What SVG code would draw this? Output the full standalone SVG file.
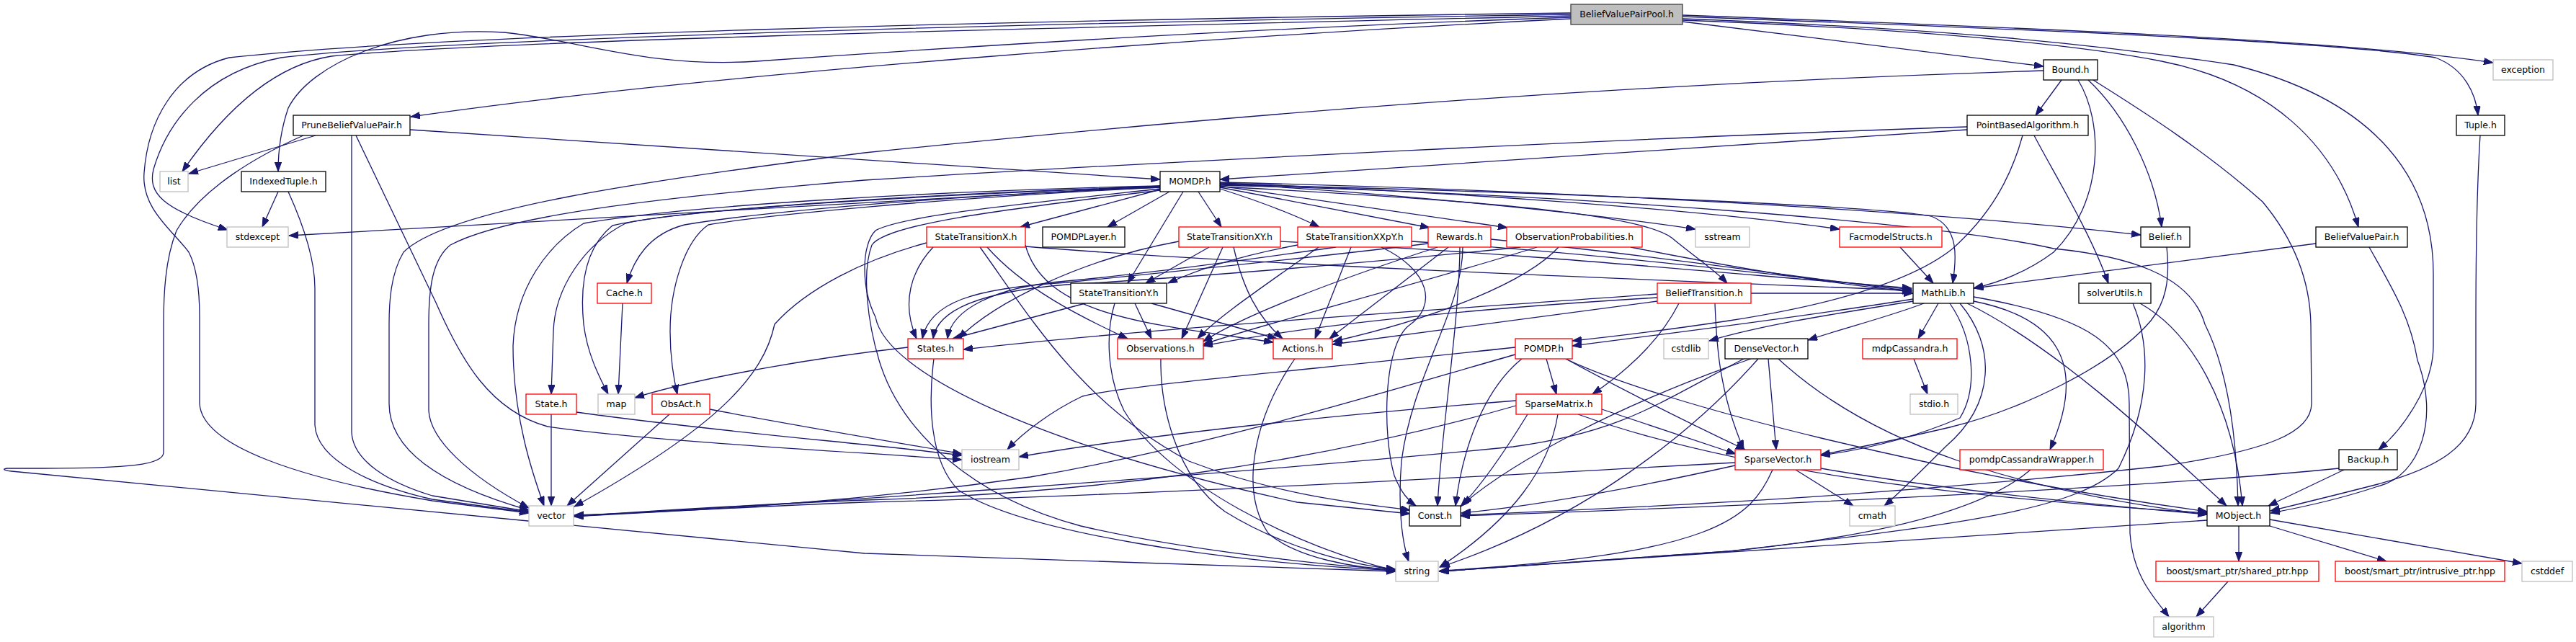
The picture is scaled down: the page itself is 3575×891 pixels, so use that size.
<svg xmlns="http://www.w3.org/2000/svg" width="3575" height="891" viewBox="0 0 3575 891">
<style>
rect{stroke-width:1.3}
.k rect{fill:#fff;stroke:#000}
.r rect{fill:#fff;stroke:#f00}
.g rect{fill:#fff;stroke:#bfbfbf}
.root rect{fill:#bfbfbf;stroke:#404040}
text{font-family:"DejaVu Sans","Liberation Sans",sans-serif;font-size:12.5px;text-anchor:middle;fill:#000}
#edges path{fill:none;stroke:#191970;stroke-width:1.3;marker-end:url(#arr)}
</style>
<defs>
<marker id="arr" markerWidth="14" markerHeight="10" refX="13" refY="4.7" orient="auto" markerUnits="userSpaceOnUse"><path d="M0,0 L13,4.7 L0,9.4 z" fill="#191970" stroke="#191970" stroke-width="1"/></marker>
</defs>
<rect x="0" y="0" width="3575" height="891" fill="#fff" stroke="none"/>
<g id="edges">
<path d="M2180,22 C1500,38 700,55 460,78 C370,92 300,170 253,238"/>
<path d="M2180,20 C1400,32 600,55 390,80 C285,100 232,170 213,235 C205,268 225,290 316,319"/>
<path d="M2180,18 C1400,28 600,48 318,80 C240,100 205,170 200,240 C196,290 240,320 262,350 C275,375 277,410 277,440 L277,560 C280,620 420,665 600,695 L734,712"/>
<path d="M2180,26 C1700,50 1000,100 570,162"/>
<path d="M2180,24 C1800,37 1400,60 1050,85 C900,95 800,55 700,45 C550,35 430,90 400,150 C388,185 386,215 386,238"/>
<path d="M2335,30 L2836,92"/>
<path d="M2335,21 C2800,38 3250,55 3460,87"/>
<path d="M2335,23 C2800,40 3250,58 3380,80 C3420,95 3436,130 3439,160"/>
<path d="M2335,28 C2700,42 2900,65 3000,85 C3150,115 3240,200 3273,315"/>
<path d="M2335,26 C2700,40 2900,60 3100,90 C3300,140 3377,250 3377,380 L3377,480 C3377,540 3330,600 3301,624"/>
<path d="M438,188 L262,241"/>
<path d="M421,188 C360,215 280,260 245,320 C229,360 227,410 227,450 L227,628 C227,645 180,650 60,650 L10,650 C2,651 6,653 16,654 L1200,768 C1500,780 1800,788 1937,793"/>
<path d="M488,188 L488,600 C490,640 540,670 600,688 L734,710"/>
<path d="M494,188 L605,420 C640,500 680,570 760,592 C900,612 1150,625 1335,638"/>
<path d="M569,180 L1610,249"/>
<path d="M386,266 L364,315"/>
<path d="M400,266 C420,310 437,360 437,400 L437,590 C440,640 520,675 600,693 L734,711"/>
<path d="M2861,111 L2825,160"/>
<path d="M2884,111 C2920,170 2920,280 2850,350 C2810,380 2770,393 2739,400"/>
<path d="M2898,111 C2950,160 2990,240 3000,315"/>
<path d="M2836,98 C2300,115 1800,150 1200,212 C900,250 620,290 560,350 C542,380 540,420 540,450 L540,560 C540,620 600,670 734,708"/>
<path d="M2905,111 C2950,140 3050,200 3140,280 C3190,340 3206,400 3207,450 L3208,560 C3208,600 3150,625 3000,647 C2600,690 2300,703 2027,715"/>
<path d="M2730,180 L1693,249"/>
<path d="M2730,176 C2300,190 1600,225 1200,250 C900,275 700,300 625,340 C600,360 595,400 595,450 L595,570 C597,610 650,660 734,705"/>
<path d="M2823,188 C2850,240 2900,320 2926,393"/>
<path d="M2807,188 C2790,250 2760,300 2710,345 C2660,385 2560,420 2400,445 C2300,460 2230,468 2182,473"/>
<path d="M3442,188 C3438,250 3436,350 3436,450 L3436,560 C3436,620 3380,650 3300,672 C3230,690 3180,702 3151,709"/>
<path d="M3214,338 L2740,400"/>
<path d="M3288,343 C3320,400 3345,440 3355,500 C3385,580 3360,660 3300,675 C3240,695 3190,705 3151,712"/>
<path d="M3253,652 L3148,702"/>
<path d="M3246,650 C3000,675 2500,700 2027,716"/>
<path d="M3007,343 C3012,390 3005,420 2985,445 C2930,510 2800,570 2706,593 C2620,613 2560,625 2527,631"/>
<path d="M1610,258 L401,327"/>
<path d="M1610,263 L1416,315"/>
<path d="M1623,266 L1537,315"/>
<path d="M1642,266 L1565,393"/>
<path d="M1663,266 L1695,315"/>
<path d="M1693,262 C1750,280 1800,300 1831,315"/>
<path d="M1693,260 L1984,316"/>
<path d="M1693,258 L2092,316"/>
<path d="M1693,255 C1900,265 2200,295 2353,318"/>
<path d="M1693,254 C2000,265 2350,290 2553,318"/>
<path d="M1693,253 C2200,265 2700,295 2971,326"/>
<path d="M1693,256 C2100,265 2600,285 2680,300 C2720,315 2715,360 2710,393"/>
<path d="M1693,257 C2200,270 2700,310 2850,345 C2950,355 3040,380 3060,450 C3090,510 3104,600 3106,702"/>
<path d="M1693,259 C2100,280 2280,300 2320,330 C2350,355 2380,375 2397,393"/>
<path d="M1610,260 C1300,272 1050,295 950,312 C900,325 880,360 870,393"/>
<path d="M1610,259 C1300,270 950,290 868,310 C810,340 770,400 768,460 L765,547"/>
<path d="M1610,259 C1300,268 950,290 850,313 C810,345 805,400 810,450 C815,490 830,520 844,547"/>
<path d="M1610,260 C1300,275 1050,300 983,312 C950,335 930,400 930,460 C930,500 936,530 940,547"/>
<path d="M1610,258 C1300,265 950,285 810,310 C760,340 715,400 712,480 C712,580 740,660 755,702"/>
<path d="M1610,262 C1400,285 1250,300 1215,320 C1195,340 1195,400 1215,440 C1230,520 1450,620 1800,697 L1957,713"/>
<path d="M1610,264 C1400,290 1230,310 1210,340 C1195,380 1205,450 1220,500 C1250,600 1350,690 1500,730 C1650,765 1850,785 1937,791"/>
<path d="M1286,337 C1200,360 1120,400 1075,450 C1060,520 1000,590 797,703"/>
<path d="M1295,343 C1265,375 1250,420 1272,470"/>
<path d="M1370,343 C1420,400 1500,440 1565,470"/>
<path d="M1423,340 C1450,440 1600,450 1767,475"/>
<path d="M1423,342 C1700,365 2200,385 2653,403"/>
<path d="M1360,343 C1430,440 1500,560 1650,640 C1780,690 1900,700 1957,708"/>
<path d="M1506,421 L1322,470"/>
<path d="M1575,421 L1598,470"/>
<path d="M1547,421 C1535,460 1535,520 1560,570 C1620,670 1800,760 1937,792"/>
<path d="M1598,421 L1772,470"/>
<path d="M1678,343 L1590,393"/>
<path d="M1636,335 C1500,360 1380,420 1330,470"/>
<path d="M1697,343 L1640,470"/>
<path d="M1712,343 C1725,400 1745,440 1780,470"/>
<path d="M1777,335 C2100,350 2400,380 2653,400"/>
<path d="M1801,340 C1720,355 1660,375 1621,393"/>
<path d="M1854,343 C1700,365 1560,383 1480,390 C1380,398 1320,430 1315,470"/>
<path d="M1830,343 C1750,400 1690,440 1662,470"/>
<path d="M1875,343 L1825,470"/>
<path d="M1917,343 C1985,375 1995,425 1955,452 C1920,480 1918,600 1935,660 C1945,685 1955,695 1965,702"/>
<path d="M1959,335 C2200,350 2450,380 2653,402"/>
<path d="M1982,338 C1800,360 1600,380 1480,392 C1350,400 1290,420 1280,470"/>
<path d="M1995,343 C1850,390 1720,440 1670,474"/>
<path d="M2010,343 L1845,470"/>
<path d="M2026,343 C2025,450 2000,600 1995,702"/>
<path d="M2030,343 C2030,430 1960,520 1945,640 C1940,700 1945,750 1955,779"/>
<path d="M2069,332 C2300,355 2500,385 2653,404"/>
<path d="M2110,343 C1900,365 1650,385 1480,395 C1360,405 1300,430 1295,470"/>
<path d="M2133,343 C1950,400 1750,450 1670,478"/>
<path d="M2163,343 C2120,390 2000,440 1850,474"/>
<path d="M2263,343 C2400,370 2550,395 2653,405"/>
<path d="M2300,408 C2000,430 1600,455 1337,485"/>
<path d="M2300,413 C2100,425 1850,445 1670,480"/>
<path d="M2300,418 L1849,478"/>
<path d="M2430,407 L2655,407"/>
<path d="M2380,421 C2382,470 2384,540 2420,624"/>
<path d="M2330,421 C2300,480 2250,520 2210,547"/>
<path d="M2146,498 L2160,547"/>
<path d="M2173,498 C2250,540 2350,590 2422,624"/>
<path d="M2103,492 C1950,535 1700,615 1430,662 C1200,695 1000,708 797,715"/>
<path d="M2103,482 C1800,515 1560,535 1502,550 C1460,570 1420,600 1398,624"/>
<path d="M2112,498 C2060,540 2030,620 2020,702"/>
<path d="M2173,498 C2300,560 2700,660 3063,710"/>
<path d="M2223,568 L2409,630"/>
<path d="M2104,563 C1800,650 1500,685 1200,694 C1000,702 870,712 797,716"/>
<path d="M2162,575 C2150,650 2100,720 1998,787"/>
<path d="M2104,556 C1800,580 1550,610 1414,634"/>
<path d="M2120,575 C2080,640 2050,680 2027,703"/>
<path d="M2190,575 C2400,650 2700,690 3063,712"/>
<path d="M2408,642 C1900,670 1500,690 1200,697 C1000,705 870,713 797,717"/>
<path d="M2460,652 C2430,720 2380,770 1998,792"/>
<path d="M2492,652 L2572,702"/>
<path d="M2408,646 C2300,670 2150,700 2028,712"/>
<path d="M2527,650 C2700,680 2900,700 3063,714"/>
<path d="M2454,498 L2465,624"/>
<path d="M2420,498 C2300,560 2250,600 2100,620 C1700,660 1100,700 797,716"/>
<path d="M2430,498 C2250,560 2100,640 2030,700"/>
<path d="M2440,498 C2350,600 2200,720 1999,787"/>
<path d="M2468,498 C2600,620 2800,680 3063,714"/>
<path d="M2670,421 C2620,440 2560,455 2509,472"/>
<path d="M2706,421 C2740,470 2745,540 2720,580 C2650,610 2580,625 2527,632"/>
<path d="M2720,421 C2770,480 2770,560 2700,620 C2660,660 2630,690 2615,702"/>
<path d="M2690,421 L2662,470"/>
<path d="M2739,418 C2850,440 2900,500 2845,624"/>
<path d="M2730,421 C2850,480 2980,600 3090,702"/>
<path d="M2739,412 C2900,440 2955,480 2955,560 L2956,740 C2960,800 2990,830 3010,856"/>
<path d="M2655,415 C2500,440 2300,465 2182,480"/>
<path d="M2655,418 C2550,435 2450,450 2372,473"/>
<path d="M2656,498 L2675,547"/>
<path d="M2818,652 C2750,710 2600,745 2400,765 C2200,780 2050,790 1998,793"/>
<path d="M2970,421 C3040,460 3100,560 3112,702"/>
<path d="M2960,421 C2985,480 2985,560 2940,650 C2880,710 2700,730 2400,765 C2200,780 2050,790 1998,793"/>
<path d="M2637,343 L2683,393"/>
<path d="M864,421 L858,547"/>
<path d="M765,575 L765,702"/>
<path d="M800,572 C1000,600 1200,615 1335,632"/>
<path d="M929,575 L787,702"/>
<path d="M985,568 C1100,590 1250,615 1335,630"/>
<path d="M1260,482 C1100,500 950,530 881,552"/>
<path d="M1296,498 C1288,560 1290,640 1330,680 C1420,740 1700,780 1937,792"/>
<path d="M1611,498 C1610,560 1630,660 1700,710 C1780,760 1880,785 1937,790"/>
<path d="M1797,498 C1740,580 1720,680 1760,740 C1800,775 1880,788 1937,791"/>
<path d="M3063,722 C2600,750 2200,780 1997,793"/>
<path d="M3107,730 L3107,779"/>
<path d="M3150,730 L3312,779"/>
<path d="M3150,721 L3500,782"/>
<path d="M3092,807 L3048,856"/>
</g>
<g id="n-BeliefValuePairPool" class="root"><rect x="2180" y="6" width="155" height="28"/><text x="2257.5" y="24">BeliefValuePairPool.h</text></g>
<g id="n-Bound" class="k"><rect x="2836" y="83" width="75" height="28"/><text x="2873.5" y="101">Bound.h</text></g>
<g id="n-exception" class="g"><rect x="3460" y="83" width="83" height="28"/><text x="3501.5" y="101">exception</text></g>
<g id="n-PointBasedAlgorithm" class="k"><rect x="2730" y="160" width="168" height="28"/><text x="2814" y="178">PointBasedAlgorithm.h</text></g>
<g id="n-Tuple" class="k"><rect x="3409" y="160" width="67" height="28"/><text x="3442.5" y="178">Tuple.h</text></g>
<g id="n-PruneBeliefValuePair" class="k"><rect x="407" y="160" width="162" height="28"/><text x="488" y="178">PruneBeliefValuePair.h</text></g>
<g id="n-list" class="g"><rect x="222" y="238" width="39" height="28"/><text x="241.5" y="256">list</text></g>
<g id="n-IndexedTuple" class="k"><rect x="335" y="238" width="117" height="28"/><text x="393.5" y="256">IndexedTuple.h</text></g>
<g id="n-MOMDP" class="k"><rect x="1610" y="238" width="83" height="28"/><text x="1651.5" y="256">MOMDP.h</text></g>
<g id="n-stdexcept" class="g"><rect x="315" y="315" width="85" height="28"/><text x="357.5" y="333">stdexcept</text></g>
<g id="n-StateTransitionX" class="r"><rect x="1286" y="315" width="137" height="28"/><text x="1354.5" y="333">StateTransitionX.h</text></g>
<g id="n-POMDPLayer" class="k"><rect x="1447" y="315" width="114" height="28"/><text x="1504" y="333">POMDPLayer.h</text></g>
<g id="n-StateTransitionXY" class="r"><rect x="1636" y="315" width="141" height="28"/><text x="1706.5" y="333">StateTransitionXY.h</text></g>
<g id="n-StateTransitionXXpY" class="r"><rect x="1801" y="315" width="158" height="28"/><text x="1880" y="333">StateTransitionXXpY.h</text></g>
<g id="n-Rewards" class="r"><rect x="1982" y="315" width="87" height="28"/><text x="2025.5" y="333">Rewards.h</text></g>
<g id="n-ObservationProbabilities" class="r"><rect x="2091" y="315" width="188" height="28"/><text x="2185" y="333">ObservationProbabilities.h</text></g>
<g id="n-sstream" class="g"><rect x="2353" y="315" width="75" height="28"/><text x="2390.5" y="333">sstream</text></g>
<g id="n-FacmodelStructs" class="r"><rect x="2553" y="315" width="142" height="28"/><text x="2624" y="333">FacmodelStructs.h</text></g>
<g id="n-Belief" class="k"><rect x="2971" y="315" width="68" height="28"/><text x="3005" y="333">Belief.h</text></g>
<g id="n-BeliefValuePair" class="k"><rect x="3214" y="315" width="127" height="28"/><text x="3277.5" y="333">BeliefValuePair.h</text></g>
<g id="n-Cache" class="r"><rect x="829" y="393" width="75" height="28"/><text x="866.5" y="411">Cache.h</text></g>
<g id="n-StateTransitionY" class="k"><rect x="1486" y="393" width="133" height="28"/><text x="1552.5" y="411">StateTransitionY.h</text></g>
<g id="n-BeliefTransition" class="r"><rect x="2300" y="393" width="130" height="28"/><text x="2365" y="411">BeliefTransition.h</text></g>
<g id="n-MathLib" class="k"><rect x="2655" y="393" width="84" height="28"/><text x="2697" y="411">MathLib.h</text></g>
<g id="n-solverUtils" class="k"><rect x="2885" y="393" width="100" height="28"/><text x="2935" y="411">solverUtils.h</text></g>
<g id="n-States" class="r"><rect x="1260" y="470" width="77" height="28"/><text x="1298.5" y="488">States.h</text></g>
<g id="n-Observations" class="r"><rect x="1551" y="470" width="119" height="28"/><text x="1610.5" y="488">Observations.h</text></g>
<g id="n-Actions" class="r"><rect x="1767" y="470" width="82" height="28"/><text x="1808" y="488">Actions.h</text></g>
<g id="n-POMDP" class="r"><rect x="2103" y="470" width="79" height="28"/><text x="2142.5" y="488">POMDP.h</text></g>
<g id="n-cstdlib" class="g"><rect x="2309" y="470" width="62" height="28"/><text x="2340" y="488">cstdlib</text></g>
<g id="n-DenseVector" class="k"><rect x="2394" y="470" width="115" height="28"/><text x="2451.5" y="488">DenseVector.h</text></g>
<g id="n-mdpCassandra" class="r"><rect x="2585" y="470" width="131" height="28"/><text x="2650.5" y="488">mdpCassandra.h</text></g>
<g id="n-State" class="r"><rect x="730" y="547" width="70" height="28"/><text x="765" y="565">State.h</text></g>
<g id="n-map" class="g"><rect x="830" y="547" width="51" height="28"/><text x="855.5" y="565">map</text></g>
<g id="n-ObsAct" class="r"><rect x="905" y="547" width="80" height="28"/><text x="945" y="565">ObsAct.h</text></g>
<g id="n-SparseMatrix" class="r"><rect x="2104" y="547" width="119" height="28"/><text x="2163.5" y="565">SparseMatrix.h</text></g>
<g id="n-stdio" class="g"><rect x="2651" y="547" width="66" height="28"/><text x="2684" y="565">stdio.h</text></g>
<g id="n-iostream" class="g"><rect x="1335" y="624" width="79" height="28"/><text x="1374.5" y="642">iostream</text></g>
<g id="n-SparseVector" class="r"><rect x="2408" y="624" width="119" height="28"/><text x="2467.5" y="642">SparseVector.h</text></g>
<g id="n-pomdpCassandraWrapper" class="r"><rect x="2720" y="624" width="199" height="28"/><text x="2819.5" y="642">pomdpCassandraWrapper.h</text></g>
<g id="n-Backup" class="k"><rect x="3246" y="624" width="81" height="28"/><text x="3286.5" y="642">Backup.h</text></g>
<g id="n-vector" class="g"><rect x="734" y="702" width="62" height="28"/><text x="765" y="720">vector</text></g>
<g id="n-Const" class="k"><rect x="1956" y="702" width="71" height="28"/><text x="1991.5" y="720">Const.h</text></g>
<g id="n-cmath" class="g"><rect x="2567" y="702" width="63" height="28"/><text x="2598.5" y="720">cmath</text></g>
<g id="n-MObject" class="k"><rect x="3063" y="702" width="87" height="28"/><text x="3106.5" y="720">MObject.h</text></g>
<g id="n-string" class="g"><rect x="1937" y="779" width="59" height="28"/><text x="1966.5" y="797">string</text></g>
<g id="n-shared_ptr" class="r"><rect x="2992" y="779" width="226" height="28"/><text x="3105" y="797">boost/smart_ptr/shared_ptr.hpp</text></g>
<g id="n-intrusive_ptr" class="r"><rect x="3241" y="779" width="235" height="28"/><text x="3358.5" y="797">boost/smart_ptr/intrusive_ptr.hpp</text></g>
<g id="n-cstddef" class="g"><rect x="3500" y="779" width="70" height="28"/><text x="3535" y="797">cstddef</text></g>
<g id="n-algorithm" class="g"><rect x="2989" y="856" width="83" height="28"/><text x="3030.5" y="874">algorithm</text></g>
</svg>
